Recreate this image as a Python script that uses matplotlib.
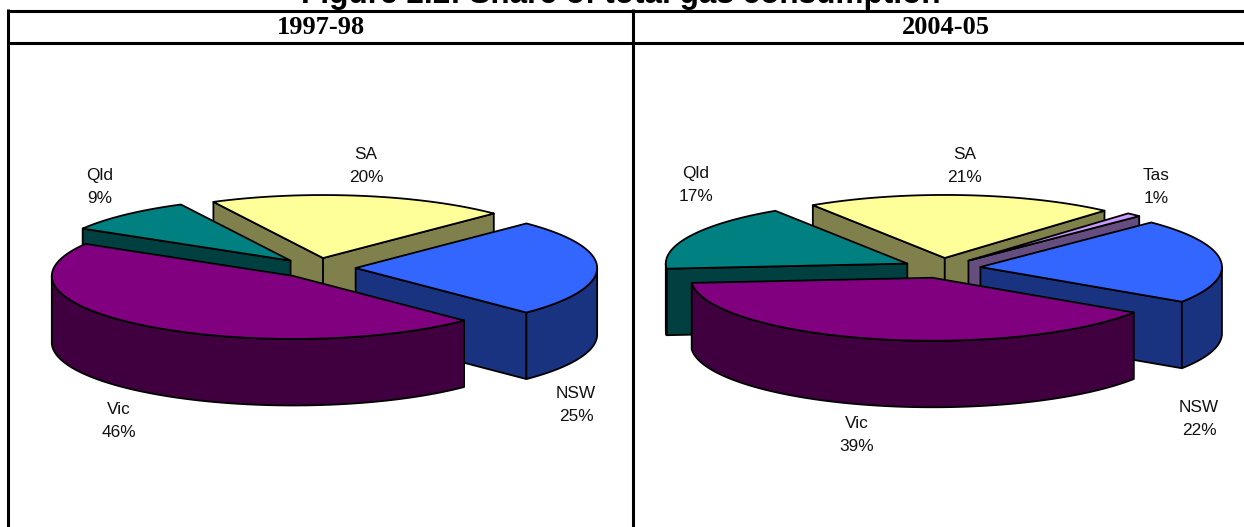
import numpy as np
import matplotlib
matplotlib.use('Agg')
import matplotlib.pyplot as plt

# shares (going clockwise from the top right)
states_9798 = ['NSW', 'Vic', 'Qld', 'SA']
shares_9798 = [25, 46, 9, 20]
states_0405 = ['NSW', 'Vic', 'Qld', 'SA', 'Tas']
shares_0405 = [21.8, 39.4, 17.1, 20.7, 1.0]
headers = ['1997-98', '2004-05']
title = 'Figure 2.2: Share of total gas consumption'

top_colours = {'NSW': '#3366FF', 'Vic': '#800080', 'Qld': '#008080', 'SA': '#FFFF99', 'Tas': '#CC99FF'}
side_colours = {'NSW': '#1A3380', 'Vic': '#400040', 'Qld': '#004040', 'SA': '#80804D', 'Tas': '#664D80'}

# pixel layout
rx, ry, depth = 241.5, 63, 66.5
explode = 0.16
start = 45
edge = dict(edgecolor='black', linewidth=1.3, joinstyle='round')

labels_9798 = {'NSW': (576, 405), 'Vic': (119, 421), 'Qld': (100, 187), 'SA': (366, 166)}
labels_0405 = {'NSW': (1199, 419), 'Vic': (857, 435), 'Qld': (696, 185), 'SA': (965, 166), 'Tas': (1156, 187)}


def pie3d(ax, cx, cy, names, values, label_pos):
    total = sum(values)
    angles = start - np.cumsum([0] + list(values)) / total * 360
    slices = []
    for i, name in enumerate(names):
        t0, t1 = angles[i], angles[i + 1]
        mid = np.radians((t0 + t1) / 2)
        slices.append((-np.sin(mid), name, t0, t1, mid))

    # back slices first, so the front ones paint over them
    for _, name, t0, t1, mid in sorted(slices, key=lambda s: s[0]):
        ax_ = cx + explode * rx * np.cos(mid)
        ay = cy - explode * ry * np.sin(mid)
        extra = [a for a in (0, -180, -360) if t1 < a < t0]
        ts = np.radians(np.sort(np.r_[np.linspace(t1, t0, 300), extra])[::-1])
        x = ax_ + rx * np.cos(ts)
        y = ay - ry * np.sin(ts)

        # cut faces
        for t, px, py, show in ((t0, x[0], y[0], np.cos(ts[0]) < 0), (t1, x[-1], y[-1], np.cos(ts[-1]) > 0)):
            if show:
                ax.fill([ax_, px, px, ax_], [ay, py, py + depth, ay + depth],
                        facecolor=side_colours[name], **edge)
        # outer wall
        front = np.sin(ts) <= 1e-9
        if front.any():
            ax.fill(np.r_[x[front], x[front][::-1]], np.r_[y[front], y[front][::-1] + depth],
                    facecolor=side_colours[name], **edge)
        # top
        ax.fill(np.r_[ax_, x], np.r_[ay, y], facecolor=top_colours[name], **edge)

    for name, value in zip(names, values):
        lx, ly = label_pos[name]
        ax.text(lx, ly, f'{name}\n{round(value)}%', ha='center', va='center', color='#111111',
                family='Liberation Sans', fontsize=12.4, linespacing=1.68)


fig = plt.figure(figsize=(12.44, 5.27), dpi=100)
ax = fig.add_axes([0, 0, 1, 1])
ax.set_xlim(0, 1244)
ax.set_ylim(527, 0)
ax.axis('off')

# table lines
ax.plot([7, 1244], [10.5, 10.5], color='black', lw=2.2, solid_capstyle='butt')
ax.plot([7, 1244], [43, 43], color='black', lw=2.2, solid_capstyle='butt')
ax.plot([8, 8], [9, 527], color='black', lw=2.2, solid_capstyle='butt')
ax.plot([632.5, 632.5], [9, 527], color='black', lw=2.2, solid_capstyle='butt')

# the title sits mostly above the top edge in the reference too
ax.text(621, 3, title, ha='center', va='baseline', family='Liberation Sans',
        fontweight='bold', fontsize=22.7, clip_on=False)
ax.text(321, 27, headers[0], ha='center', va='center', family='Liberation Serif',
        fontweight='bold', fontsize=19)
ax.text(946, 27, headers[1], ha='center', va='center', family='Liberation Serif',
        fontweight='bold', fontsize=19)

pie3d(ax, 317, 268, states_9798, shares_9798, labels_9798)
pie3d(ax, 942, 268, states_0405, shares_0405, labels_0405)

fig.savefig('out.png', dpi=100)
